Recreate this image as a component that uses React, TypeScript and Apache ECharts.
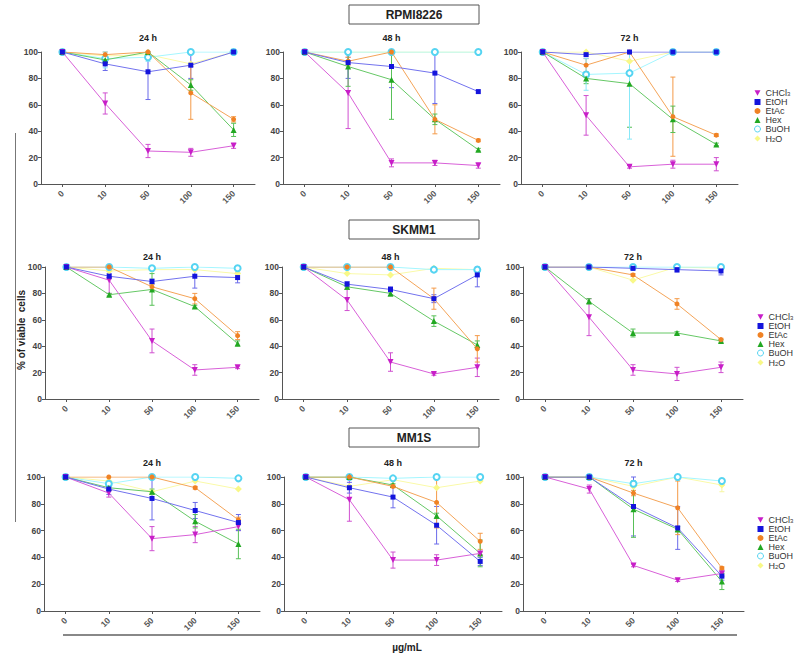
import React, { useEffect, useRef } from "react";
import * as echarts from "echarts";

// ---------- data ----------
const doses = ["0", "10", "50", "100", "150"];
const solvents = ["CHCl3", "EtOH", "EtAc", "Hex", "BuOH", "H2O"];
const cellLines = ["RPMI8226", "SKMM1", "MM1S"];
const times = ["24 h", "48 h", "72 h"];
const yTicks = [0, 20, 40, 60, 80, 100];

// rows: CHCl3, EtOH, EtAc, Hex, BuOH, H2O
const RPMI_24h = [
  [100, 61, 25, 24, 29],
  [100, 91, 85, 90, 100],
  [100, 98, 100, 69, 49],
  [100, 94, 100, 75, 41],
  [100, 95, 96, 100, 100],
  [100, 97, 98, 91, 100],
];
const RPMI_24h_err = [
  [0, 8, 5, 3, 2],
  [0, 5, 21, 10, 0],
  [0, 2, 1, 20, 2],
  [0, 3, 1, 4, 5],
  [0, 7, 3, 0, 0],
  [0, 0, 0, 0, 0],
];
const RPMI_48h = [
  [100, 69, 16, 16, 14],
  [100, 92, 89, 84, 70],
  [100, 93, 100, 49, 33],
  [100, 89, 79, 49, 26],
  [100, 100, 100, 100, 100],
  [100, 100, 100, 100, 100],
];
const RPMI_48h_err = [
  [0, 27, 3, 2, 2],
  [0, 12, 16, 23, 0],
  [0, 3, 1, 11, 1],
  [0, 15, 30, 4, 1],
  [0, 0, 0, 0, 0],
  [0, 0, 0, 0, 0],
];
const RPMI_72h = [
  [100, 52, 13, 15, 15],
  [100, 98, 100, 100, 100],
  [100, 90, 100, 51, 37],
  [100, 80, 76, 49, 30],
  [100, 83, 84, 100, 100],
  [100, 100, 93, 100, 100],
];
const RPMI_72h_err = [
  [0, 15, 1, 3, 5],
  [0, 1, 0, 0, 0],
  [0, 5, 1, 30, 1],
  [0, 4, 33, 10, 1],
  [0, 12, 50, 0, 0],
  [0, 0, 0, 0, 0],
];
const SKMM1_24h = [
  [100, 90, 44, 22, 24],
  [100, 93, 89, 93, 92],
  [100, 100, 85, 76, 48],
  [100, 79, 83, 70, 42],
  [100, 100, 99, 100, 99],
  [100, 97, 98, 98, 95],
];
const SKMM1_24h_err = [
  [0, 10, 9, 4, 1],
  [0, 2, 2, 9, 4],
  [0, 1, 2, 4, 3],
  [0, 1, 12, 1, 2],
  [0, 0, 0, 0, 0],
  [0, 0, 0, 0, 0],
];
const SKMM1_48h = [
  [100, 75, 28, 19, 24],
  [100, 87, 83, 76, 94],
  [100, 100, 100, 76, 38],
  [100, 85, 80, 59, 41],
  [100, 100, 100, 98, 98],
  [100, 95, 94, 99, 98],
];
const SKMM1_48h_err = [
  [0, 8, 7, 1, 7],
  [0, 2, 2, 3, 9],
  [0, 0, 0, 8, 10],
  [0, 2, 2, 4, 3],
  [0, 0, 0, 0, 0],
  [0, 0, 0, 0, 0],
];
const SKMM1_72h = [
  [100, 62, 22, 19, 24],
  [100, 100, 99, 98, 97],
  [100, 100, 94, 72, 45],
  [100, 74, 50, 50, 44],
  [100, 100, 100, 100, 100],
  [100, 100, 90, 100, 99],
];
const SKMM1_72h_err = [
  [0, 14, 4, 5, 4],
  [0, 0, 0, 2, 3],
  [0, 0, 1, 4, 1],
  [0, 2, 3, 1, 1],
  [0, 0, 0, 0, 0],
  [0, 0, 0, 0, 0],
];
const MM1S_24h = [
  [100, 88, 54, 57, 63],
  [100, 91, 84, 75, 66],
  [100, 100, 100, 92, 68],
  [100, 92, 89, 67, 50],
  [100, 95, 100, 100, 99],
  [100, 97, 89, 97, 91],
];
const MM1S_24h_err = [
  [0, 3, 9, 6, 3],
  [0, 4, 16, 6, 6],
  [0, 0, 0, 1, 2],
  [0, 1, 2, 5, 11],
  [0, 0, 0, 0, 0],
  [0, 0, 0, 0, 0],
];
const MM1S_48h = [
  [100, 83, 38, 38, 43],
  [100, 92, 85, 64, 37],
  [100, 100, 93, 81, 52],
  [100, 100, 94, 71, 43],
  [100, 100, 99, 100, 100],
  [100, 93, 98, 92, 97],
];
const MM1S_48h_err = [
  [0, 16, 6, 4, 1],
  [0, 4, 8, 14, 3],
  [0, 0, 1, 19, 6],
  [0, 1, 1, 2, 10],
  [0, 0, 0, 0, 0],
  [0, 0, 0, 0, 0],
];
const MM1S_72h = [
  [100, 91, 34, 23, 28],
  [100, 100, 78, 62, 26],
  [100, 100, 88, 77, 32],
  [100, 100, 76, 61, 22],
  [100, 100, 95, 100, 97],
  [100, 100, 93, 100, 94],
];
const MM1S_72h_err = [
  [0, 3, 1, 1, 2],
  [0, 0, 22, 16, 3],
  [0, 0, 2, 20, 1],
  [0, 0, 21, 2, 6],
  [0, 0, 0, 0, 0],
  [0, 0, 0, 0, 5],
];

const panelValues = [
  RPMI_24h, RPMI_48h, RPMI_72h,
  SKMM1_24h, SKMM1_48h, SKMM1_72h,
  MM1S_24h, MM1S_48h, MM1S_72h,
];
const panelErrors = [
  RPMI_24h_err, RPMI_48h_err, RPMI_72h_err,
  SKMM1_24h_err, SKMM1_48h_err, SKMM1_72h_err,
  MM1S_24h_err, MM1S_48h_err, MM1S_72h_err,
];

// ---------- layout & styles ----------
const gridRects = [
  [41, 52, 214, 132], [283, 52, 217, 132], [521, 52, 217, 132],
  [45, 267, 214, 132], [282, 267, 217, 132], [523, 267, 220, 132],
  [44, 477, 216, 134], [284, 477, 218, 134], [523, 477, 221, 134],
];
const rowTitleY = [38, 257, 463];
const rowBoxY = [5, 220, 428];
const legendTop = [88, 312, 515];
const legendLeft = [754, 757, 757];

const markerColors = ["#C81EC8", "#1414DC", "#F08224", "#22A822", "#55D4F2", "#F8F888"];
const lineColors = ["#D860D8", "#7272EE", "#F4A458", "#66C866", "#A4F6FF", "#FAFAA8"];
const errColors = ["#D050D0", "#6A6AEA", "#F49A48", "#58C058", "#88E8F8", "#F6F6A0"];
const symbols = ["triangle", "rect", "circle", "triangle", "emptyCircle", "diamond"];
const symbolRot = [180, 0, 0, 0, 0, 0];
const symbolSizes = [6, 5, 5, 6, 6, 7];
const seriesZ = [6, 7, 5, 4, 3, 2];
const invTri = "path://M0,0 L10,0 L5,9 Z";

const FONT = "'Liberation Sans', Arial, sans-serif";

function buildOption() {
  const grid: any[] = [];
  const xAxis: any[] = [];
  const yAxis: any[] = [];
  const series: any[] = [];
  const graphic: any[] = [];
  const legend: any[] = [];

  gridRects.forEach((r, p) => {
    grid.push({ left: r[0], top: r[1], width: r[2], height: r[3] });
    xAxis.push({
      type: "category",
      gridIndex: p,
      data: doses,
      boundaryGap: true,
      axisLine: { lineStyle: { color: "#555", width: 1 } },
      axisTick: { show: true, alignWithLabel: true, length: 3, lineStyle: { color: "#555" } },
      axisLabel: {
        rotate: 45,
        fontSize: 8.5,
        fontWeight: "bold",
        color: "#555",
        margin: 8,
        fontFamily: FONT,
      },
    });
    yAxis.push({
      type: "value",
      gridIndex: p,
      min: yTicks[0],
      max: yTicks[yTicks.length - 1],
      interval: 20,
      splitLine: { show: false },
      axisLine: { show: true, lineStyle: { color: "#555", width: 1 } },
      axisTick: { show: true, length: 3, lineStyle: { color: "#555" } },
      axisLabel: { fontSize: 8.5, fontWeight: "bold", color: "#444", margin: 3, fontFamily: FONT },
    });

    const vals = panelValues[p];
    const errs = panelErrors[p];
    const errItems: any[] = [];
    vals.forEach((row, s) => {
      row.forEach((v, i) => {
        const e = errs[s][i];
        if (e > 0) errItems.push([i, v - e, Math.min(v + e, 100), s]);
      });
    });
    series.push({
      type: "custom",
      xAxisIndex: p,
      yAxisIndex: p,
      z: 1,
      silent: true,
      data: errItems,
      renderItem: (params: any, api: any) => {
        const x = api.value(0);
        const lo = api.value(1);
        const hi = api.value(2);
        const s = api.value(3);
        const a = api.coord([x, lo]);
        const b = api.coord([x, hi]);
        const c = errColors[s];
        const w = 2.5;
        return {
          type: "group",
          children: [
            { type: "line", shape: { x1: a[0], y1: a[1], x2: b[0], y2: b[1] }, style: { stroke: c, lineWidth: 1 } },
            { type: "line", shape: { x1: a[0] - w, y1: a[1], x2: a[0] + w, y2: a[1] }, style: { stroke: c, lineWidth: 1 } },
            { type: "line", shape: { x1: b[0] - w, y1: b[1], x2: b[0] + w, y2: b[1] }, style: { stroke: c, lineWidth: 1 } },
          ],
        };
      },
    });

    vals.forEach((row, s) => {
      series.push({
        type: "line",
        name: solvents[s],
        xAxisIndex: p,
        yAxisIndex: p,
        z: seriesZ[s],
        data: row,
        symbol: symbols[s],
        symbolRotate: symbolRot[s],
        symbolSize: symbolSizes[s],
        showAllSymbol: true,
        lineStyle: { color: lineColors[s], width: 1 },
        itemStyle: {
          color: markerColors[s],
          borderColor: markerColors[s],
          borderWidth: s === 4 ? 1 : 0,
        },
      });
    });

    // panel subtitle
    graphic.push({
      type: "text",
      x: r[0] + r[2] / 2,
      y: rowTitleY[Math.floor(p / 3)],
      style: {
        text: times[p % 3],
        fontSize: 9,
        fontWeight: "bold",
        fill: "#222",
        align: "center",
        verticalAlign: "middle",
        fontFamily: FONT,
      },
    });
  });

  // cell line boxes & legends
  cellLines.forEach((name, row) => {
    graphic.push({
      type: "rect",
      shape: { x: 349, y: rowBoxY[row], width: 130, height: 19 },
      style: { fill: "#fff", stroke: "#555", lineWidth: 1 },
    });
    graphic.push({
      type: "text",
      x: 414,
      y: rowBoxY[row] + 10,
      style: {
        text: name,
        fontSize: 12,
        fontWeight: "bold",
        fill: "#222",
        align: "center",
        verticalAlign: "middle",
        fontFamily: FONT,
      },
    });
    legend.push({
      orient: "vertical",
      left: legendLeft[row],
      top: legendTop[row],
      itemWidth: 6,
      itemHeight: 6,
      itemGap: 0,
      padding: 0,
      selectedMode: false,
      data: solvents.map((n, s) => ({
        name: n,
        icon: s === 0 ? invTri : symbols[s] === "emptyCircle" ? "circle" : symbols[s],
        itemStyle:
          s === 4
            ? { color: "#fff", borderColor: markerColors[4], borderWidth: 1 }
            : { color: markerColors[s], borderWidth: 0 },
      })),
      formatter: (n: string) =>
        n === "CHCl3" ? "CHCl{sub|3}" : n === "H2O" ? "H{sub|2}O" : n,
      textStyle: {
        fontSize: 9,
        color: "#333",
        lineHeight: 8,
        fontFamily: FONT,
        padding: [0, 0, 0, 0],
        rich: {
          sub: { fontSize: 6, lineHeight: 8, verticalAlign: "bottom", padding: [3, 0, 0, 0], fontFamily: FONT, color: "#333" },
        },
      },
    });
  });

  // y label & left line
  graphic.push({
    type: "line",
    shape: { x1: 15.5, y1: 133, x2: 15.5, y2: 522 },
    style: { stroke: "#777", lineWidth: 1 },
  });
  graphic.push({
    type: "text",
    x: 21,
    y: 330,
    rotation: Math.PI / 2,
    style: {
      text: "% of viable  cells",
      fontSize: 10,
      fontWeight: "bold",
      fill: "#222",
      align: "center",
      verticalAlign: "middle",
      fontFamily: FONT,
    },
  });
  // bottom line & x label
  graphic.push({
    type: "line",
    shape: { x1: 63, y1: 635, x2: 737, y2: 635 },
    style: { stroke: "#888", lineWidth: 2 },
  });
  graphic.push({
    type: "text",
    x: 407,
    y: 647,
    style: {
      text: "µg/mL",
      fontSize: 10,
      fontWeight: "bold",
      fill: "#222",
      align: "center",
      verticalAlign: "middle",
      fontFamily: FONT,
    },
  });

  return {
    animation: false,
    backgroundColor: "#fff",
    textStyle: { fontFamily: FONT },
    grid,
    xAxis,
    yAxis,
    series,
    legend,
    graphic,
  };
}

export default function App() {
  const ref = useRef<HTMLDivElement>(null);
  useEffect(() => {
    if (!ref.current) return;
    const chart = echarts.init(ref.current, undefined, { renderer: "svg" });
    chart.setOption(buildOption() as any);
    return () => chart.dispose();
  }, []);
  return (
    <div
      ref={ref}
      style={{ position: "absolute", left: 0, top: 0, width: 797, height: 655 }}
    />
  );
}
